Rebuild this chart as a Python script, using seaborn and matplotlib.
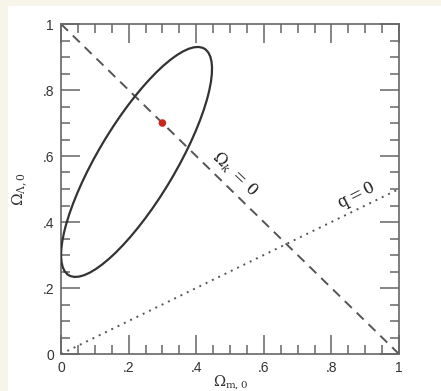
import matplotlib
matplotlib.use("Agg")
import matplotlib.pyplot as plt
from matplotlib.patches import Ellipse, Rectangle
from matplotlib.ticker import MultipleLocator
import seaborn as sns
import pandas as pd

# ---- data ----
flat_m = [0.0, 1.0]          # Omega_k = 0 line
flat_l = [1.0, 0.0]
q0_m = [0.0, 1.0]            # q = 0 line
q0_l = [0.0, 0.5]
best_m = [0.3]               # best-fit point
best_l = [0.7]
ell_center = (0.2235, 0.582) # confidence ellipse
ell_width = 0.795
ell_height = 0.230
ell_angle = 59.8
tick_vals = [0, 0.2, 0.4, 0.6, 0.8, 1.0]
tick_labels = ["0", ".2", ".4", ".6", ".8", "1"]

sns.set_style("ticks")
plt.rcParams['font.family'] = ['Liberation Sans', 'DejaVu Sans']
plt.rcParams['mathtext.fontset'] = 'dejavuserif'

fig = plt.figure(figsize=(4.41, 3.91), dpi=100, facecolor="white")
# faint page background strips
fig.patches.append(Rectangle((0, 0), 8/441, 1, transform=fig.transFigure,
                             facecolor="#f7f5ea", edgecolor="none", zorder=0))
fig.patches.append(Rectangle((0, 1 - 6/391), 1, 6/391, transform=fig.transFigure,
                             facecolor="#f7f5ea", edgecolor="none", zorder=0))

ax = fig.add_axes([61/441, 37/391, 338/441, 330/391])
ax.set_facecolor("white")

line_col = "#555555"
df_flat = pd.DataFrame({"m": flat_m, "l": flat_l})
df_q0 = pd.DataFrame({"m": q0_m, "l": q0_l})
sns.lineplot(data=df_flat, x="m", y="l", ax=ax, color=line_col, lw=1.4,
             linestyle=(0, (5, 3.5)), sort=False)
sns.lineplot(data=df_q0, x="m", y="l", ax=ax, color=line_col, lw=1.4,
             linestyle=(0, (1, 2.6)), sort=False)

ax.add_patch(Ellipse(ell_center, ell_width, ell_height, angle=ell_angle,
                     facecolor="none", edgecolor="#333333", lw=1.6, zorder=3))

sns.scatterplot(x=best_m, y=best_l, ax=ax, color="#c8281e", s=30,
                edgecolor="none", zorder=4)

ax.text(0.515, 0.545, r"$\Omega_k\,=\,0$", rotation=-44, ha="center", va="center",
        fontsize=11.5, color="#222222", rotation_mode="anchor")
ax.text(0.875, 0.478, r"$\mathrm{q} = 0$", rotation=27, ha="center", va="center",
        fontsize=11.5, color="#222222", rotation_mode="anchor")

ax.set_xlim(0, 1)
ax.set_ylim(0, 1)
ax.set_xticks(tick_vals)
ax.set_xticklabels(tick_labels)
ax.set_yticks(tick_vals)
ax.set_yticklabels(tick_labels)
ax.xaxis.set_minor_locator(MultipleLocator(0.05))
ax.yaxis.set_minor_locator(MultipleLocator(0.05))
ax.tick_params(which="major", direction="in", length=13.5, width=1.1,
               color="#666666", top=True, right=True, labelsize=10,
               labelcolor="#333333", pad=5)
ax.tick_params(which="minor", direction="in", length=6.5, width=1.1,
               color="#666666", top=True, right=True)
for s in ax.spines.values():
    s.set_color("#666666")
    s.set_linewidth(1.2)
    s.set_visible(True)

ax.set_xlabel(r"$\Omega_{\mathrm{m},0}$", fontsize=10.5, color="#333333")
ax.xaxis.set_label_coords(0.5, -0.058)
ax.set_ylabel(r"$\Omega_{\Lambda,0}$", fontsize=11, color="#333333", labelpad=9)

fig.savefig("out.png", dpi=100, facecolor=fig.get_facecolor())
